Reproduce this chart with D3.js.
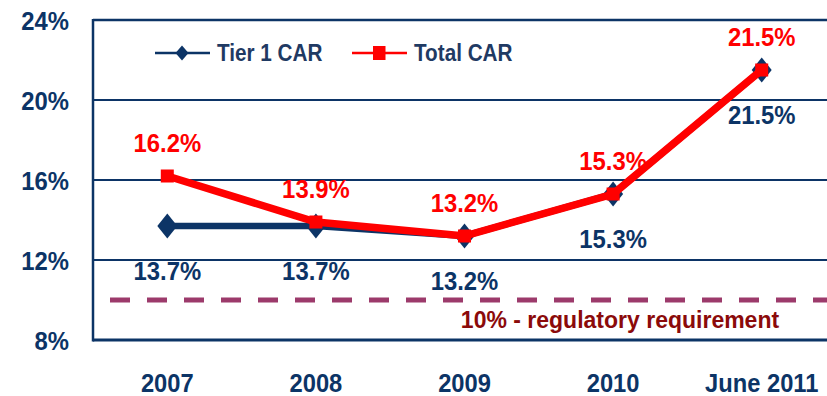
<!DOCTYPE html>
<html>
<head>
<meta charset="utf-8">
<script src="https://cdn.jsdelivr.net/npm/d3@7"></script>
<style>
  html, body { margin: 0; padding: 0; background: #fff; }
  svg { display: block; font-family: "Liberation Sans", Arial, sans-serif; }
</style>
</head>
<body>
<svg id="chart" width="827" height="396"></svg>
<script>
// Capital adequacy ratios by period
const categories = ["2007", "2008", "2009", "2010", "June 2011"];
const tier1Car = [13.7, 13.7, 13.2, 15.3, 21.5];
const totalCar = [16.2, 13.9, 13.2, 15.3, 21.5];
const yTicks = [8, 12, 16, 20, 24];
const regulatoryMinimum = 10;
const seriesNames = ["Tier 1 CAR", "Total CAR"];
const regulatoryLabel = "10% - regulatory requirement";

const navy = "#0c3466";
const red = "#ff0000";
const plum = "#9c3a6b";
const darkRed = "#8b0a0a";
const FONT = "'Liberation Sans', Arial, sans-serif";
const SQUEEZE = 0.9; // slightly condensed lettering

const svg = d3.select("#chart");
const m = { left: 93, top: 20, bottom: 340, right: 836 };

const x = d3.scaleBand().domain(categories).range([m.left, m.right]);
const y = d3.scaleLinear().domain([8, 24]).range([m.bottom, m.top]);
const cx = c => x(c) + x.bandwidth() / 2;

// Gridlines
svg.append("g")
  .selectAll("line")
  .data(yTicks.filter(t => t > 8))
  .join("line")
  .attr("x1", m.left).attr("x2", m.right)
  .attr("y1", d => y(d)).attr("y2", d => y(d))
  .attr("stroke", navy).attr("stroke-width", d => d === 24 ? 2.5 : 2);

// Left and bottom frame
svg.append("line")
  .attr("x1", m.left).attr("x2", m.left)
  .attr("y1", y(24) - 1).attr("y2", y(8) + 1.5)
  .attr("stroke", navy).attr("stroke-width", 2.5);
svg.append("line")
  .attr("x1", m.left).attr("x2", m.right)
  .attr("y1", y(8)).attr("y2", y(8))
  .attr("stroke", navy).attr("stroke-width", 3);

// Y axis labels
const yAxis = d3.axisLeft(y).tickValues(yTicks).tickFormat(d => d + "%").tickSize(0).tickPadding(0);
const gy = svg.append("g").attr("transform", `translate(69,0)`).call(yAxis);
gy.select(".domain").remove();
gy.selectAll("text")
  .attr("fill", navy).attr("font-size", 26.5).attr("font-weight", "bold")
  .attr("font-family", FONT)
  .attr("x", 0).attr("dy", "0.36em")
  .attr("transform", `scale(${SQUEEZE},1)`);

// X axis labels
const xAxis = d3.axisBottom(x).tickSize(0).tickPadding(0);
const gx = svg.append("g").attr("transform", `translate(0,383)`).call(xAxis);
gx.select(".domain").remove();
gx.selectAll("text")
  .attr("fill", navy).attr("font-size", 25.5).attr("font-weight", "bold")
  .attr("font-family", FONT)
  .attr("y", 0).attr("dy", "0.36em")
  .attr("transform", `scale(0.93,1)`);

// Regulatory requirement
svg.append("line")
  .attr("x1", 110).attr("x2", m.right)
  .attr("y1", y(regulatoryMinimum)).attr("y2", y(regulatoryMinimum))
  .attr("stroke", plum).attr("stroke-width", 5)
  .attr("stroke-dasharray", "20 17");
svg.append("text")
  .attr("x", 620).attr("y", y(regulatoryMinimum) + 19.5)
  .attr("dy", "0.36em")
  .attr("text-anchor", "middle")
  .attr("fill", darkRed).attr("font-size", 23).attr("font-weight", "bold")
  .text(regulatoryLabel);

const line = d3.line().x((d, i) => cx(categories[i])).y(d => y(d));
const diamond = s => `M0,${-s * 1.25}L${s},0L0,${s * 1.25}L${-s},0Z`;

// Tier 1 series
svg.append("path").datum(tier1Car)
  .attr("d", line).attr("fill", "none")
  .attr("stroke", navy).attr("stroke-width", 6.5);
svg.append("g").selectAll("path")
  .data(tier1Car).join("path")
  .attr("transform", (d, i) => `translate(${cx(categories[i])},${y(d)})`)
  .attr("d", diamond(10)).attr("fill", navy);

// Total series
svg.append("path").datum(totalCar)
  .attr("d", line).attr("fill", "none")
  .attr("stroke", red).attr("stroke-width", 7.5);
svg.append("g").selectAll("rect")
  .data(totalCar).join("rect")
  .attr("x", (d, i) => cx(categories[i]) - 6.5)
  .attr("y", d => y(d) - 6.5)
  .attr("width", 13).attr("height", 13)
  .attr("fill", red);

// Value labels
function valueLabels(values, offset, color) {
  svg.append("g").selectAll("text")
    .data(values).join("text")
    .attr("transform", (d, i) => `translate(${cx(categories[i])},${y(d) + offset}) scale(${SQUEEZE},1)`)
    .attr("dy", "0.36em").attr("text-anchor", "middle")
    .attr("fill", color).attr("font-size", 26.5).attr("font-weight", "bold")
    .attr("font-family", FONT)
    .text(d => d.toFixed(1) + "%");
}
valueLabels(totalCar, -33.5, red);
valueLabels(tier1Car, 44, navy);

// Legend
const legend = svg.append("g").attr("transform", "translate(0,53)");
const items = [
  { name: seriesNames[0], x0: 155, color: navy, shape: "diamond" },
  { name: seriesNames[1], x0: 352, color: red, shape: "square" }
];
items.forEach(it => {
  legend.append("line")
    .attr("x1", it.x0).attr("x2", it.x0 + 55)
    .attr("y1", 0).attr("y2", 0)
    .attr("stroke", it.color).attr("stroke-width", 2.5);
  if (it.shape === "diamond") {
    legend.append("path")
      .attr("transform", `translate(${it.x0 + 27},0)`)
      .attr("d", "M0,-7.5L6.5,0L0,7.5L-6.5,0Z").attr("fill", it.color);
  } else {
    legend.append("rect")
      .attr("x", it.x0 + 21).attr("y", -7).attr("width", 12.5).attr("height", 14)
      .attr("fill", it.color);
  }
  legend.append("text")
    .attr("transform", `translate(${it.x0 + 62},0) scale(${SQUEEZE},1)`)
    .attr("dy", "0.36em")
    .attr("fill", "#1f3a63").attr("font-size", 23).attr("font-weight", "bold")
    .attr("font-family", FONT)
    .text(it.name);
});
</script>
</body>
</html>
